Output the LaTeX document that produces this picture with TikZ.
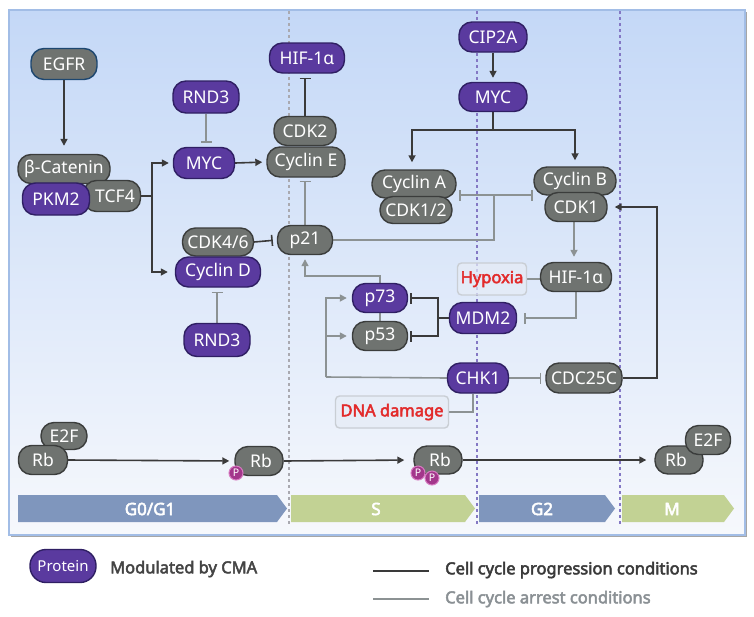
\documentclass[tikz,border=0pt]{standalone}
\usepackage{fontspec}
\setmainfont{Noto Sans}
\newfontfamily\bfam{Noto Sans}[FakeBold=3]
\usetikzlibrary{arrows.meta}
\pgfdeclarelayer{back}
\pgfdeclarelayer{conn}
\pgfsetlayers{back,conn,main}
\definecolor{ngray}{HTML}{6F7370}
\definecolor{ngrayd}{HTML}{3B3D3C}
\definecolor{npurp}{HTML}{5A3A9F}
\definecolor{npurpd}{HTML}{2F1F63}
\definecolor{egfrd}{HTML}{1D4770}
\definecolor{cprog}{HTML}{3A3A3A}
\definecolor{carr}{HTML}{8C9293}
\definecolor{bgtop}{HTML}{C4D8F7}
\definecolor{bgbot}{HTML}{F6F8FC}
\definecolor{framec}{HTML}{A2BDE6}
\definecolor{dashg}{HTML}{A9A9B0}
\definecolor{dashp}{HTML}{8478C4}
\definecolor{phblue}{HTML}{7F96BD}
\definecolor{phgreen}{HTML}{C2D294}
\definecolor{cred}{HTML}{E22B2B}
\definecolor{hypd}{HTML}{C9CED4}
\definecolor{hypf}{HTML}{E6ECF6}
\definecolor{pfill}{HTML}{A3368B}
\definecolor{pdraw}{HTML}{D77BC1}
\definecolor{legtxt}{HTML}{444444}
\definecolor{legarr}{HTML}{8A9094}
\newcommand{\nfont}{\fontsize{17.5}{19}\selectfont}
\tikzset{
  pill/.style={draw, rectangle, rounded corners=13pt, line width=1.4pt, text=white,
    font=\nfont, inner sep=0pt, minimum height=29pt},
  grayp/.style={pill, fill=ngray, draw=ngrayd},
  purp/.style={pill, fill=npurp, draw=npurpd},
  prog/.style={draw=cprog, line width=1.6pt},
  arrc/.style={draw=carr, line width=1.6pt},
  ar/.style={-{Triangle[length=7pt,width=7pt]}},
  inh/.style={-{Bar[width=11pt]}},
  condbox/.style={draw=hypd, fill=hypf, fill opacity=0.7, text opacity=1, line width=1.4pt,
    rounded corners=4pt, text=cred, font=\bfam\fontsize{16.5}{18}\selectfont, inner sep=0pt, minimum height=32pt},
  pcirc/.style={circle, fill=pfill, draw=pdraw, line width=1pt, minimum size=14pt, inner sep=0pt,
    text=white, font=\fontsize{10.5}{10}\selectfont},
  phase/.style={text=white, font=\bfam\fontsize{17}{18}\selectfont},
  legt/.style={anchor=west, font=\bfam\fontsize{16.5}{18}\selectfont, inner sep=0pt},
  vdash/.style={line width=1.2pt, dash pattern=on 3pt off 3pt},
}
\begin{document}
\begin{tikzpicture}[x=1pt,y=-1pt]
\useasboundingbox (0,0) rectangle (754,616);
\begin{pgfonlayer}{back}
  \fill[white] (0,0) rectangle (754,616);
  \fill[gray!70] (11,12) rectangle (746.5,537);
  \shade[top color=bgtop, bottom color=bgbot] (9,10) rectangle (745,535);
  \draw[framec, line width=1.2pt] (9,10) rectangle (745,535);
  \draw[dashg, vdash] (289,11) -- (289,526);
  \draw[dashp, vdash] (477,11) -- (477,526);
  \draw[dashp, vdash] (620,11) -- (620,526);
  % phases
  \fill[phblue] (18,495) -- (277,495) -- (287,508.5) -- (277,522) -- (18,522) -- cycle;
  \fill[phgreen] (291,495) -- (465,495) -- (475,508.5) -- (465,522) -- (291,522) -- cycle;
  \fill[phblue] (479,495) -- (605,495) -- (615,508.5) -- (605,522) -- (479,522) -- cycle;
  \fill[phgreen] (622,495) -- (724,495) -- (734,508.5) -- (724,522) -- (622,522) -- cycle;
\end{pgfonlayer}
\node[phase] (ph1) at (150,509) {G0/G1};
\node[phase] (ph2) at (376,509) {S};
\node[phase] (ph3) at (542,509) {G2};
\node[phase] (ph4) at (672,509) {M};

% nodes
\node[grayp, draw=egfrd, minimum width=66pt, minimum height=31pt] (egfr) at (64,64) {EGFR};
\node[purp, minimum width=75pt, minimum height=30pt] (hif1) at (307,58) {HIF-1α};
\node[purp, minimum width=66pt, minimum height=32pt] (rnd1) at (206,97) {RND3};
\node[purp, minimum width=61pt, minimum height=31pt] (myc1) at (204,163) {MYC};
\node[grayp, minimum width=62pt] (cdk2) at (305,131) {CDK2};
\node[grayp, minimum width=78pt, minimum height=30pt] (cyce) at (306,162) {Cyclin E};
\node[grayp, minimum width=92pt, minimum height=29pt] (bcat) at (64,169) {β-Catenin};
\node[grayp, minimum width=57pt, minimum height=31pt] (tcf) at (112,196) {\hspace*{6pt}TCF4};
\node[purp, minimum width=67pt, minimum height=32pt] (pkm) at (56,199) {PKM2};
\node[grayp, minimum width=71pt, minimum height=28pt] (cdk46) at (218,242) {CDK4/6};
\node[purp, minimum width=85pt, minimum height=30pt] (cycd) at (218,272) {Cyclin D};
\node[purp, minimum width=66pt, minimum height=33pt] (rnd2) at (217,340) {RND3};
\node[grayp, minimum width=55pt] (p21) at (305,240) {p21};
\node[grayp, minimum width=84pt, minimum height=28pt] (cyca) at (414,184) {Cyclin A};
\node[grayp, minimum width=72pt, minimum height=27pt] (cdk12) at (416,210) {CDK1/2};
\node[purp, minimum width=68pt, minimum height=30pt] (cip) at (493,37) {CIP2A};
\node[purp, minimum width=68pt] (myc2) at (493,97) {MYC};
\node[grayp, minimum width=82pt, minimum height=28pt] (cycb) at (575,181) {Cyclin B};
\node[grayp, minimum width=62pt] (cdk1) at (576,207) {CDK1};
\node[grayp, minimum width=71pt] (hif2) at (576,277) {HIF-1α};
\node[condbox, minimum width=69pt] (hyp) at (492,279) {Hypoxia};
\node[purp, minimum width=67pt, minimum height=31pt] (mdm2) at (483,318) {MDM2};
\node[purp, minimum width=55pt] (p73) at (380,298) {p73};
\node[grayp, minimum width=55pt] (p53) at (380,336) {p53};
\node[purp, minimum width=61pt, minimum height=30pt] (chk1) at (478,378) {CHK1};
\node[grayp, minimum width=76pt, minimum height=30pt] (cdc) at (584,378) {CDC25C};
\node[condbox, minimum width=113pt] (dna) at (392,412) {DNA damage};
% Rb row
\node[grayp, minimum width=46pt, minimum height=27pt] (e2f1) at (64,436) {E2F};
\node[grayp, minimum width=49pt] (rb1) at (43,460) {Rb};
\node[grayp, minimum width=48pt] (rb2) at (259,461) {\hspace*{4pt}Rb};
\node[pcirc] (pa1) at (236,473) {P};
\node[grayp, minimum width=48pt, minimum height=28pt] (rb3) at (438,460) {\hspace*{4pt}Rb};
\node[pcirc] (pb1) at (418,473) {P};
\node[pcirc] (pb2) at (432,478) {P};
\node[grayp, minimum width=48pt, minimum height=28pt] (rb4) at (679,460) {Rb\hspace*{6pt}};
\node[grayp, minimum width=45pt] (e2f4) at (708,440) {E2F};

% connectors
\coordinate (tcfj) at (152,196);
\coordinate (pj) at (494,195);
\coordinate (pa) at (459,195);
\coordinate (pb) at (533,195);
\coordinate (mj) at (493,130);
\coordinate (mdj) at (438,318);
\coordinate (pup) at (380,276);
\coordinate (ck) at (326,377);
\coordinate (cj) at (657,378);
\begin{pgfonlayer}{conn}
  \draw[prog, ar, shorten >=8pt] (egfr.south) -- (bcat.north);
  \draw[prog, ar, shorten >=4pt] (tcf.east) -- (tcfj) |- (myc1.west);
  \draw[prog, ar, shorten >=7pt] (tcfj) |- (cycd.west);
  \draw[arrc, inh, shorten >=4pt] (rnd1.south) -- (rnd1.south |- myc1.north);
  \draw[arrc, inh, shorten >=4pt] (rnd2.north) -- (rnd2.north |- cycd.south);
  \draw[prog, ar, shorten >=4pt] (myc1.east) -- (cyce.west);
  \draw[prog, inh, shorten >=4pt] (cdk2.north) -- (hif1.south -| cdk2.north);
  \draw[arrc, inh, shorten >=3pt] (p21.north) -- (p21.north |- cyce.south);
  \draw[prog, inh, shorten >=4pt] (cdk46.east) -- (p21.west);
  \draw[arrc] (p21.east) -| (pj);
  \draw[arrc, inh] (pj) -- (pa);
  \draw[arrc, inh] (pj) -- (pb);
  \draw[prog, ar, shorten >=4pt] (cip.south) -- (myc2.north);
  \draw[prog] (myc2.south) -- (mj);
  \draw[prog, ar, shorten >=7pt] (mj) -| ([xshift=-2pt]cyca.north);
  \draw[prog, ar, shorten >=6pt] (mj) -| (cycb.north);
  \draw[arrc, ar, shorten >=5pt] ([xshift=-2pt]cdk1.south) -- ([xshift=-2pt]hif2.north);
  \draw[arrc] (hyp.east) -- (hif2.west |- hyp.east);
  \draw[arrc, inh, shorten >=7pt] (hif2.south) |- (mdm2.east);
  \draw[prog] (mdm2.west) -- (mdj);
  \draw[prog, inh, shorten >=2pt] (mdj) |- (p73.east);
  \draw[prog, inh, shorten >=2pt] (mdj) |- (p53.east);
  \draw[arrc, ar, shorten >=4pt] (p53.north) -- (pup) -| (p21.south);
  \draw[arrc] (chk1.west) -- (ck);
  \draw[arrc, ar, shorten >=5pt] (ck) |- (p73.west);
  \draw[arrc, ar, shorten >=5pt] (ck) |- (p53.west);
  \draw[arrc, inh, shorten >=4pt] (chk1.east) -- (cdc.west);
  \draw[prog, ar, shorten >=7pt] (cdc.east) -- (cj) |- (cdk1.east);
  \draw[arrc] (dna.east) -| ([xshift=-5pt]chk1.south);
  \draw[prog, ar, shorten >=5pt] (rb1.east) -- (rb2.west);
  \draw[prog, ar, shorten >=9pt] (rb2.east) -- (rb3.west);
  \draw[prog, ar, shorten >=8pt] (rb3.east) -- (rb4.west);
\end{pgfonlayer}

% legend
\node[purp, minimum width=66pt, minimum height=33pt, rounded corners=16pt, font=\fontsize{15}{16}\selectfont] (leg) at (63,566) {Protein};
\node[legt, text=legtxt] (legm) at (110,569) {Modulated by CMA};
\coordinate (la1) at (373,571);
\coordinate (la2) at (429,571);
\coordinate (lb1) at (373,599);
\coordinate (lb2) at (429,599);
\draw[prog] (la1) -- (la2);
\draw[arrc] (lb1) -- (lb2);
\node[legt, text=cprog] (legp) at (445,570) {Cell cycle progression conditions};
\node[legt, text=legarr] (lega) at (445,599) {Cell cycle arrest conditions};
\end{tikzpicture}
\end{document}
